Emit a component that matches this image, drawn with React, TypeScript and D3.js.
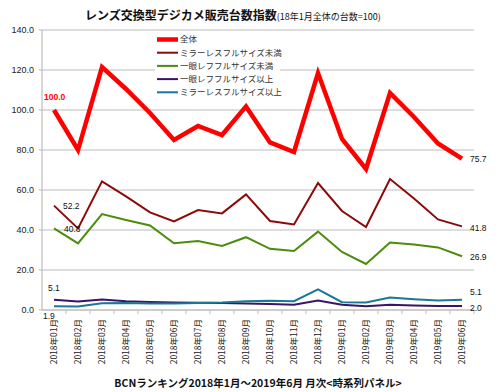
import * as d3 from "d3";

const months = [
  "2018年01月", "2018年02月", "2018年03月", "2018年04月", "2018年05月", "2018年06月",
  "2018年07月", "2018年08月", "2018年09月", "2018年10月", "2018年11月", "2018年12月",
  "2019年01月", "2019年02月", "2019年03月", "2019年04月", "2019年05月", "2019年06月",
];

const seriesNames = [
  "全体",
  "ミラーレスフルサイズ未満",
  "一眼レフフルサイズ未満",
  "一眼レフフルサイズ以上",
  "ミラーレスフルサイズ以上",
];

const total = [100.0, 80.0, 121.5, 110.5, 98.5, 85.0, 92.0, 87.5, 101.8, 83.8, 79.0, 118.5, 85.5, 70.5, 108.5, 96.5, 83.3, 75.7];
const mirrorlessSmall = [52.2, 40.8, 64.3, 56.8, 48.8, 44.3, 50.0, 48.3, 57.8, 44.5, 42.8, 63.5, 49.5, 41.5, 65.5, 55.8, 45.3, 41.8];
const dslrSmall = [40.8, 33.3, 48.0, 45.0, 42.3, 33.4, 34.5, 32.0, 36.4, 30.6, 29.5, 39.2, 29.0, 23.0, 33.7, 32.8, 31.3, 26.9];
const dslrFull = [5.1, 4.3, 5.2, 4.4, 4.0, 3.8, 3.6, 3.5, 3.2, 3.0, 2.6, 4.8, 2.6, 1.9, 2.6, 2.3, 2.0, 2.0];
const mirrorlessFull = [1.9, 1.8, 3.4, 3.5, 3.3, 3.3, 3.5, 3.8, 4.4, 4.6, 4.4, 10.3, 3.9, 3.7, 6.2, 5.4, 4.7, 5.1];

const yTicks = [0, 20, 40, 60, 80, 100, 120, 140];

const colors = ["#ff0000", "#8c0a0a", "#4a8c0c", "#3b1466", "#1a7896"];
const widths = [4.5, 2, 2, 2, 2];

export default function App() {
  const W = 500;
  const H = 392;
  const left = 42;
  const right = 474;
  const top = 30;
  const bottom = 310;

  const data = [total, mirrorlessSmall, dslrSmall, dslrFull, mirrorlessFull];

  const x = d3.scaleBand<string>().domain(months).range([left, right]);
  const cx = (i: number) => (x(months[i]) as number) + x.bandwidth() / 2;
  const y = d3.scaleLinear().domain([0, 140]).range([bottom, top]);

  const line = d3
    .line<number>()
    .x((_, i) => cx(i))
    .y((d) => y(d));

  const num = "'Liberation Sans', Arial, sans-serif";
  const jp = "'Noto Sans CJK JP', 'Liberation Sans', sans-serif";
  const last = months.length - 1;

  // start / end value labels
  const labels = [
    { s: 0, i: 0, dx: -10, dy: -13, bold: true, fill: "#ff0000" },
    { s: 1, i: 0, dx: 9, dy: 0.5 },
    { s: 2, i: 0, dx: 10, dy: 0.5 },
    { s: 3, i: 0, dx: -6, dy: -12 },
    { s: 4, i: 0, dx: -11, dy: 9.5 },
    { s: 0, i: last, dx: 8, dy: 0.5 },
    { s: 1, i: last, dx: 8, dy: 1.3 },
    { s: 2, i: last, dx: 8, dy: 0.5 },
    { s: 4, i: last, dx: 8, dy: -7.5 },
    { s: 3, i: last, dx: 8, dy: 1.7 },
  ];

  return (
    <svg
      width={W}
      height={H}
      style={{ position: "absolute", left: 0, top: 0, background: "#fff" }}
    >
      <rect x={0} y={0} width={W} height={H} fill="#fff" />
      <text x={85} y={20} fontFamily={jp} fontSize={12} fontWeight="bold" fill="#111">
        レンズ交換型デジカメ販売台数指数
        <tspan fontSize={9} fontWeight="normal">(18年1月全体の台数=100)</tspan>
      </text>

      {yTicks.map((t) => (
        <g key={t}>
          <line x1={left - 3} x2={right} y1={y(t)} y2={y(t)} stroke="#d2d2d2" strokeWidth={1.3} />
          <text
            x={34}
            y={y(t)}
            dy="0.35em"
            textAnchor="end"
            fontFamily={num}
            fontSize={9}
            fill="#222"
          >
            {d3.format(".1f")(t)}
          </text>
        </g>
      ))}
      <line x1={left} x2={left} y1={top} y2={bottom} stroke="#bdbdbd" strokeWidth={1.2} />
      <line x1={left} x2={right} y1={bottom} y2={bottom} stroke="#bdbdbd" strokeWidth={1.2} />
      {months.map((m) => (
        <line
          key={"t" + m}
          x1={(x(m) as number) + x.bandwidth()}
          x2={(x(m) as number) + x.bandwidth()}
          y1={bottom}
          y2={bottom + 4}
          stroke="#bdbdbd"
        />
      ))}
      {months.map((m, i) => (
        <text
          key={m}
          transform={`translate(${cx(i) + 3},${bottom + 9}) rotate(-90)`}
          textAnchor="end"
          fontFamily={jp}
          fontSize={8.5}
          fill="#222"
        >
          {m}
        </text>
      ))}

      {/* legend */}
      <rect x={155} y={32} width={125} height={67} fill="#fff" />
      {seriesNames.map((n, k) => {
        const ly = 39.5 + k * 13.2;
        return (
          <g key={n}>
            <line x1={157} x2={178} y1={ly} y2={ly} stroke={colors[k]} strokeWidth={widths[k]} />
            <text x={180} y={ly} dy="0.35em" fontFamily={jp} fontSize={8.5} fill="#333">
              {n}
            </text>
          </g>
        );
      })}

      {data.map((d, k) => (
        <path
          key={seriesNames[k]}
          d={line(d) || ""}
          fill="none"
          stroke={colors[k]}
          strokeWidth={widths[k]}
          strokeLinejoin="miter"
        />
      ))}

      {labels.map((l, j) => (
        <text
          key={j}
          x={cx(l.i) + l.dx}
          y={y(data[l.s][l.i]) + l.dy}
          dy="0.35em"
          fontFamily={num}
          fontSize={8.5}
          fontWeight={l.bold ? "bold" : "normal"}
          fill={l.fill || "#111"}
        >
          {d3.format(".1f")(data[l.s][l.i])}
        </text>
      ))}

      <text
        x={258}
        y={387}
        textAnchor="middle"
        fontFamily={jp}
        fontSize={10.5}
        fontWeight="bold"
        fill="#111"
      >
        BCNランキング2018年1月～2019年6月 月次&lt;時系列パネル&gt;
      </text>
    </svg>
  );
}
